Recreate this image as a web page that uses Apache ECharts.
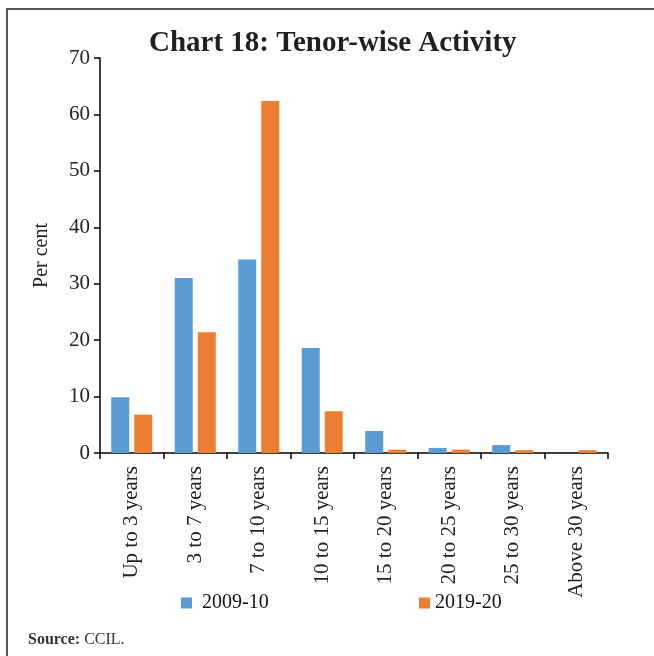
<!DOCTYPE html>
<html>
<head>
<meta charset="utf-8">
<script src="https://cdn.jsdelivr.net/npm/echarts@6/dist/echarts.min.js"></script>
<style>
  html, body { margin: 0; padding: 0; background: #fff; }
  #chart { width: 654px; height: 656px; }
</style>
</head>
<body>
<div id="chart"></div>
<script>
// tenor buckets and share of activity (per cent)
var tenors = ['Up to 3 years', '3 to 7 years', '7 to 10 years', '10 to 15 years',
              '15 to 20 years', '20 to 25 years', '25 to 30 years', 'Above 30 years'];
var share2009 = [9.9, 31.0, 34.3, 18.6, 3.9, 0.9, 1.4, 0];
var share2019 = [6.8, 21.4, 62.4, 7.4, 0.6, 0.6, 0.5, 0.5];
var yTicks = [0, 10, 20, 30, 40, 50, 60, 70];

var serif = '"Liberation Serif", "DejaVu Serif", serif';
var chart = echarts.init(document.getElementById('chart'));

chart.setOption({
  animation: false,
  title: {
    text: 'Chart 18: Tenor-wise Activity',
    left: 144,
    top: 24,
    textStyle: { fontFamily: serif, fontSize: 29, fontWeight: 'bold', color: '#231f20' }
  },
  legend: [
    {
      data: ['2009-10'],
      left: 176, top: 588,
      itemWidth: 11, itemHeight: 11,
      icon: 'rect',
      textStyle: { fontFamily: serif, fontSize: 20, color: '#111', padding: [0, 0, 0, 5] }
    },
    {
      data: ['2019-20'],
      left: 414, top: 588,
      itemWidth: 11, itemHeight: 11,
      icon: 'rect',
      textStyle: { fontFamily: serif, fontSize: 20, color: '#111' }
    }
  ],
  grid: { left: 100, right: 46, top: 58, bottom: 203 },
  xAxis: {
    type: 'category',
    data: tenors,
    axisLine: { lineStyle: { color: '#000', width: 1.5 } },
    axisTick: { show: true, length: 6, lineStyle: { color: '#000', width: 1.5 } },
    axisLabel: {
      rotate: 90, margin: 13, color: '#222',
      fontFamily: serif, fontSize: 21
    }
  },
  yAxis: {
    type: 'value',
    min: 0, max: 70, interval: 10,
    name: 'Per cent',
    nameLocation: 'middle',
    nameGap: 48,
    nameTextStyle: { fontFamily: serif, fontSize: 20, color: '#222' },
    splitLine: { show: false },
    axisLine: { show: true, lineStyle: { color: '#000', width: 1.5 } },
    axisTick: { show: true, length: 6, lineStyle: { color: '#000', width: 1.5 } },
    axisLabel: {
      margin: 10, color: '#222', fontFamily: serif, fontSize: 21,
      formatter: function (v) { return yTicks.indexOf(v) >= 0 ? String(v) : ''; }
    }
  },
  series: [
    {
      name: '2009-10', type: 'bar', data: share2009,
      barWidth: 18, barGap: '28%',
      itemStyle: { color: '#5b9bd5' }
    },
    {
      name: '2019-20', type: 'bar', data: share2019,
      barWidth: 18,
      itemStyle: { color: '#ed7d31' }
    }
  ],
  graphic: [
    {
      type: 'polyline',
      shape: { points: [[7, 656], [7, 9], [654, 9]] },
      style: { stroke: '#222', lineWidth: 1.5, fill: null }
    },
    {
      type: 'text',
      left: 28, top: 632,
      style: {
        text: '{b|Source:} CCIL.',
        rich: {
          b: { fontFamily: serif, fontSize: 16, fontWeight: 'bold', fill: '#333' }
        },
        font: '16px ' + serif,
        fill: '#333'
      }
    }
  ]
});
</script>
</body>
</html>
